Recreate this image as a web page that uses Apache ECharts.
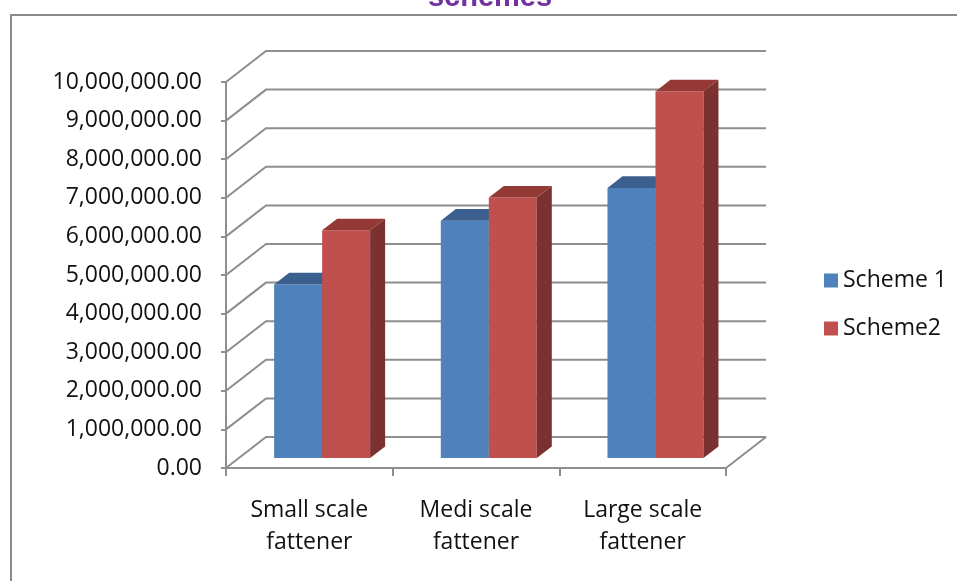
<!DOCTYPE html>
<html>
<head>
<meta charset="utf-8">
<script src="https://cdn.jsdelivr.net/npm/echarts@6/dist/echarts.min.js"></script>
<style>
html,body{margin:0;padding:0;background:#fff;}
#chart{width:957px;height:581px;}
</style>
</head>
<body>
<div id="chart"></div>
<script>
const categories = ['Small scale\nfattener', 'Medi scale\nfattener', 'Large scale\nfattener'];
const seriesNames = ['Scheme 1', 'Scheme2'];
const scheme1 = [4500000, 6150000, 7000000];
const scheme2 = [5900000, 6750000, 9500000];
const yTicks = [0, 1000000, 2000000, 3000000, 4000000, 5000000, 6000000, 7000000, 8000000, 9000000, 10000000];

const FONT = '"Open Sans", "Noto Sans", sans-serif';
const GRID_COLOR = '#8e8e8e';
const DX = 40, DY = 31;          // depth offset of back wall (px)
const BAR_D0 = 0.32;             // bar front face depth fraction
const BAR_DEPTH = 0.375;         // bar depth fraction
const BAR_FRAC = 0.288;          // bar width as fraction of band

const palettes = [
  {front: '#4F81BD', top: '#3B5F8E', side: '#385D8A'},
  {front: '#C0504D', top: '#953936', side: '#7A3130'}
];

function barRenderer(sIdx) {
  const pal = palettes[sIdx];
  return function (params, api) {
    const i = api.value(0), v = api.value(1);
    const topPt = api.coord([i, v]);
    const basePt = api.coord([i, 0]);
    const band = api.size([1, 0])[0];
    const bw = band * BAR_FRAC;
    const ox = DX * BAR_D0, oy = -DY * BAR_D0;
    const xl = topPt[0] - bw + sIdx * bw + ox;
    const xr = xl + bw;
    const yt = topPt[1] + oy, yb = basePt[1] + oy;
    const ddx = DX * BAR_DEPTH, ddy = DY * BAR_DEPTH;
    return {
      type: 'group',
      children: [
        {type: 'rect', shape: {x: xl, y: yt, width: bw, height: yb - yt}, style: {fill: pal.front}},
        {type: 'polygon', shape: {points: [[xl, yt], [xl + ddx, yt - ddy], [xr + ddx, yt - ddy], [xr, yt]]}, style: {fill: pal.top}},
        {type: 'polygon', shape: {points: [[xr, yt], [xr + ddx, yt - ddy], [xr + ddx, yb - ddy], [xr, yb]]}, style: {fill: pal.side}}
      ]
    };
  };
}

function wallRenderer(params, api) {
  const v = api.value(1);
  const y = api.coord([0, v])[1];
  const cs = params.coordSys;
  const x0 = cs.x, x1 = cs.x + cs.width;
  const children = [{
    type: 'polyline',
    shape: {points: [[x0, y], [x0 + DX, y - DY], [x1 + DX, y - DY]]},
    style: {stroke: GRID_COLOR, lineWidth: 2, fill: null}
  }];
  if (v === 0) {
    children.push({
      type: 'line',
      shape: {x1: x1, y1: y, x2: x1 + DX, y2: y - DY},
      style: {stroke: GRID_COLOR, lineWidth: 2}
    });
  }
  return {type: 'group', children: children};
}

const chart = echarts.init(document.getElementById('chart'));
chart.setOption({
  animation: false,
  backgroundColor: '#ffffff',
  textStyle: {fontFamily: FONT},
  graphic: [
    {type: 'rect', silent: true, z: -10, shape: {x: 11, y: 15, width: 1000, height: 620},
     style: {fill: 'none', stroke: '#8a8a8a', lineWidth: 2}},
    {type: 'text', silent: true, x: 490, y: 12,
     style: {text: 'schemes', fill: '#7030A0', font: 'bold 29px "Liberation Sans", Arial, sans-serif',
             textAlign: 'center', textVerticalAlign: 'bottom', verticalAlign: 'bottom'}}
  ],
  legend: {
    orient: 'vertical', left: 819, top: 264,
    itemWidth: 14, itemHeight: 14, itemGap: 25,
    textStyle: {fontSize: 23, fontFamily: FONT, color: '#111111'},
    data: [{name: seriesNames[0], icon: 'rect'}, {name: seriesNames[1], icon: 'rect'}]
  },
  grid: {left: 226, top: 82, width: 500, height: 386, containLabel: false},
  xAxis: {
    type: 'category',
    data: categories,
    axisLine: {lineStyle: {color: GRID_COLOR, width: 2}},
    axisTick: {show: true, length: 8, lineStyle: {color: GRID_COLOR, width: 2}},
    axisLabel: {fontSize: 23, lineHeight: 32, margin: 26, color: '#111111', fontFamily: FONT},
    splitLine: {show: false}
  },
  yAxis: {
    type: 'value', min: 0, max: 10000000, interval: 1000000,
    axisLine: {show: true, lineStyle: {color: GRID_COLOR, width: 2}},
    axisTick: {show: true, length: 5, lineStyle: {color: GRID_COLOR, width: 2}},
    axisLabel: {fontSize: 23, margin: 24, color: '#111111', fontFamily: FONT,
      formatter: v => v.toLocaleString('en-US', {minimumFractionDigits: 2, maximumFractionDigits: 2})},
    splitLine: {show: false}
  },
  series: [
    {type: 'custom', name: 'walls', silent: true, z: 1, clip: false,
     renderItem: wallRenderer, data: yTicks.map(v => [0, v]), legendHoverLink: false},
    {type: 'custom', name: seriesNames[0], z: 3, clip: false, itemStyle: {color: palettes[0].front},
     renderItem: barRenderer(0), encode: {x: 0, y: 1},
     data: scheme1.map((v, i) => [i, v])},
    {type: 'custom', name: seriesNames[1], z: 4, clip: false, itemStyle: {color: palettes[1].front},
     renderItem: barRenderer(1), encode: {x: 0, y: 1},
     data: scheme2.map((v, i) => [i, v])}
  ]
});
</script>
</body>
</html>
